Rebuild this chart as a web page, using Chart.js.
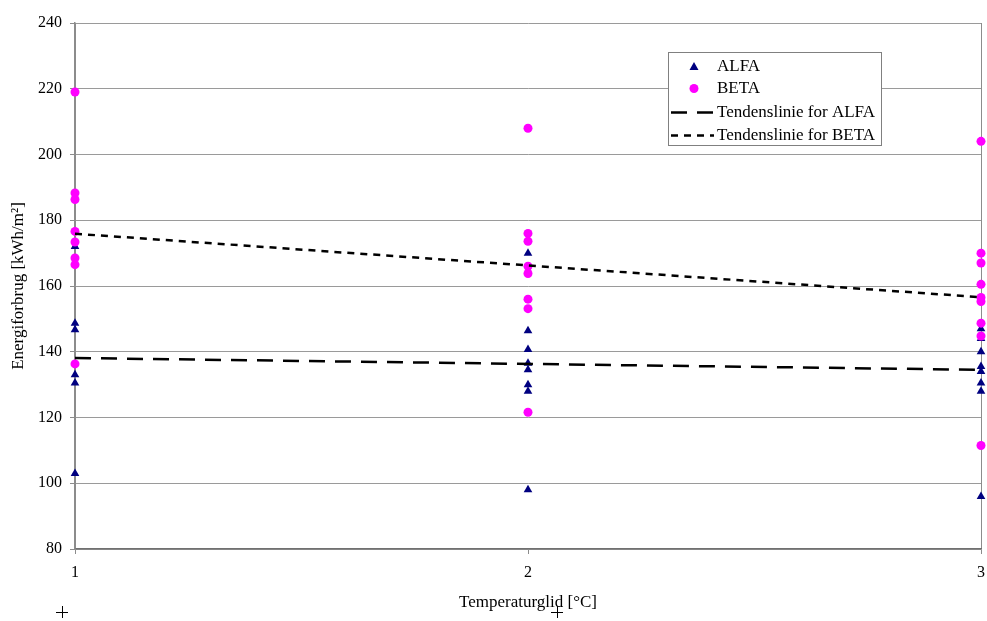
<!DOCTYPE html>
<html>
<head>
<meta charset="utf-8">
<script src="https://cdn.jsdelivr.net/npm/chart.js@4"></script>
<style>
  html, body { margin: 0; padding: 0; background: #fff; }
  #wrap { width: 987px; height: 621px; position: relative; }
</style>
</head>
<body>
<div id="wrap"><canvas id="energyChart"></canvas></div>
<script>
// Energiforbrug pr. temperaturglid
const alfaX = [1, 1, 1, 1, 1, 1,
               2, 2, 2, 2, 2, 2, 2, 2,
               3, 3, 3, 3, 3, 3, 3, 3];
const alfaY = [172, 148.7, 146.7, 133, 130.5, 103,
               170, 146.4, 140.7, 136.5, 134.5, 130, 128, 98,
               147, 144, 140, 135.5, 134, 130.5, 128, 96];

const betaX = [1, 1, 1, 1, 1, 1, 1, 1,
               2, 2, 2, 2, 2, 2, 2, 2,
               3, 3, 3, 3, 3, 3, 3, 3, 3];
const betaY = [219, 188.3, 186.3, 176.6, 173.4, 168.5, 166.5, 136.3,
               208, 176, 173.6, 166, 163.8, 156, 153.1, 121.6,
               204, 170, 167, 160.5, 156.5, 155.3, 148.7, 144.8, 111.5];

// Tendenslinjer (endepunkter ved x = 1 og x = 3)
const trendX = [1, 3];
const trendAlfa = [138.1, 134.5];
const trendBeta = [175.9, 156.6];

const yTicks = [80, 100, 120, 140, 160, 180, 200, 220, 240];
const xTicks = [1, 2, 3];

const toPoints = (xs, ys) => xs.map((x, i) => ({ x: x, y: ys[i] }));

const serif = '"Liberation Serif", "Times New Roman", serif';
const NAVY = '#000080';
const MAGENTA = '#ff00ff';

// Legend box in the upper right of the plot
const legendBox = {
  id: 'legendBox',
  afterDatasetsDraw(chart) {
    const c = chart.ctx;
    const x0 = 668, y0 = 52, w = 213, h = 93;
    c.save();
    c.fillStyle = '#fff';
    c.fillRect(x0, y0, w, h);
    c.strokeStyle = '#808080';
    c.lineWidth = 1;
    c.strokeRect(x0 + 0.5, y0 + 0.5, w, h);

    c.font = '17px ' + serif;
    c.textBaseline = 'middle';
    const tx = 717;
    const rows = [66.5, 88.5, 112.5, 135.5];
    const labels = chart.data.datasets.map(d => d.label);

    // ALFA marker
    c.fillStyle = NAVY;
    c.beginPath();
    c.moveTo(694, rows[0] - 4.5);
    c.lineTo(698.5, rows[0] + 3.5);
    c.lineTo(689.5, rows[0] + 3.5);
    c.closePath();
    c.fill();
    // BETA marker
    c.fillStyle = MAGENTA;
    c.beginPath();
    c.arc(694, rows[1], 4.5, 0, Math.PI * 2);
    c.fill();
    // trend line samples
    c.strokeStyle = '#000';
    c.lineWidth = 2.5;
    c.setLineDash([16, 10]);
    c.beginPath();
    c.moveTo(671, rows[2]);
    c.lineTo(714, rows[2]);
    c.stroke();
    c.setLineDash([7, 6]);
    c.beginPath();
    c.moveTo(671, rows[3]);
    c.lineTo(714, rows[3]);
    c.stroke();
    c.setLineDash([]);

    c.fillStyle = '#000';
    const order = ['ALFA', 'BETA', 'Tendenslinie for ALFA', 'Tendenslinie for BETA'];
    order.forEach((t, i) => {
      if (labels.includes(t)) c.fillText(t, tx, rows[i]);
    });
    c.restore();
  }
};

// small registration crosses under the chart
const crossMarks = {
  id: 'crossMarks',
  afterDraw(chart) {
    const c = chart.ctx;
    c.save();
    c.strokeStyle = '#000';
    c.lineWidth = 1;
    [[62, 612], [557, 612]].forEach(([x, y]) => {
      c.beginPath();
      c.moveTo(x - 6, y + 0.5);
      c.lineTo(x + 6, y + 0.5);
      c.moveTo(x + 0.5, y - 6);
      c.lineTo(x + 0.5, y + 6);
      c.stroke();
    });
    c.restore();
  }
};

const ctx = document.getElementById('energyChart').getContext('2d');
const energyChart = new Chart(ctx, {
  type: 'scatter',
  data: {
    datasets: [
      {
        label: 'Tendenslinie for ALFA',
        data: toPoints(trendX, trendAlfa),
        showLine: true,
        borderColor: '#000',
        borderWidth: 2.5,
        borderDash: [16, 10],
        pointRadius: 0,
        fill: false,
        order: 0
      },
      {
        label: 'Tendenslinie for BETA',
        data: toPoints(trendX, trendBeta),
        showLine: true,
        borderColor: '#000',
        borderWidth: 2.5,
        borderDash: [7, 6],
        pointRadius: 0,
        fill: false,
        order: 1
      },
      {
        label: 'BETA',
        data: toPoints(betaX, betaY),
        pointStyle: 'circle',
        pointRadius: 4.5,
        backgroundColor: MAGENTA,
        borderColor: MAGENTA,
        borderWidth: 0,
        order: 2
      },
      {
        label: 'ALFA',
        data: toPoints(alfaX, alfaY),
        pointStyle: 'triangle',
        pointRadius: 5,
        backgroundColor: NAVY,
        borderColor: NAVY,
        borderWidth: 0,
        order: 3
      }
    ]
  },
  options: {
    responsive: true,
    maintainAspectRatio: false,
    animation: false,
    clip: false,
    layout: { padding: { left: 0, right: 6, top: 23, bottom: 0 } },
    plugins: {
      legend: { display: false },
      tooltip: { enabled: false }
    },
    scales: {
      x: {
        type: 'linear',
        min: 1,
        max: 3,
        afterBuildTicks: (scale) => { scale.ticks = xTicks.map(v => ({ value: v })); },
        afterFit: (scale) => {
          scale.height = 72;
          scale.paddingLeft = 0;
          scale.paddingRight = 0;
        },
        grid: {
          color: (c) => (c.tick && c.tick.value === 2) ? 'rgba(0,0,0,0)' : '#8c8c8c',
          tickColor: '#8c8c8c',
          tickLength: 5,
          lineWidth: 1
        },
        border: { color: '#707070', width: 1.5 },
        ticks: {
          color: '#000',
          font: { family: serif, size: 16 },
          padding: 9
        },
        title: {
          display: true,
          text: 'Temperaturglid [°C]',
          color: '#000',
          font: { family: serif, size: 17 },
          padding: { top: 0, bottom: 8 }
        }
      },
      y: {
        type: 'linear',
        min: 80,
        max: 240,
        afterBuildTicks: (scale) => { scale.ticks = yTicks.map(v => ({ value: v })); },
        afterFit: (scale) => {
          scale.width = 75;
          scale.paddingTop = 0;
          scale.paddingBottom = 0;
        },
        grid: {
          color: '#9a9a9a',
          tickColor: '#8c8c8c',
          tickLength: 5,
          lineWidth: 1
        },
        border: { color: '#8c8c8c', width: 1.5 },
        ticks: {
          color: '#000',
          font: { family: serif, size: 16 },
          padding: 8
        },
        title: {
          display: true,
          text: 'Energiforbrug [kWh/m²]',
          color: '#000',
          font: { family: serif, size: 17 },
          padding: { top: 8, bottom: 0 }
        }
      }
    }
  },
  plugins: [legendBox, crossMarks]
});
</script>
</body>
</html>
